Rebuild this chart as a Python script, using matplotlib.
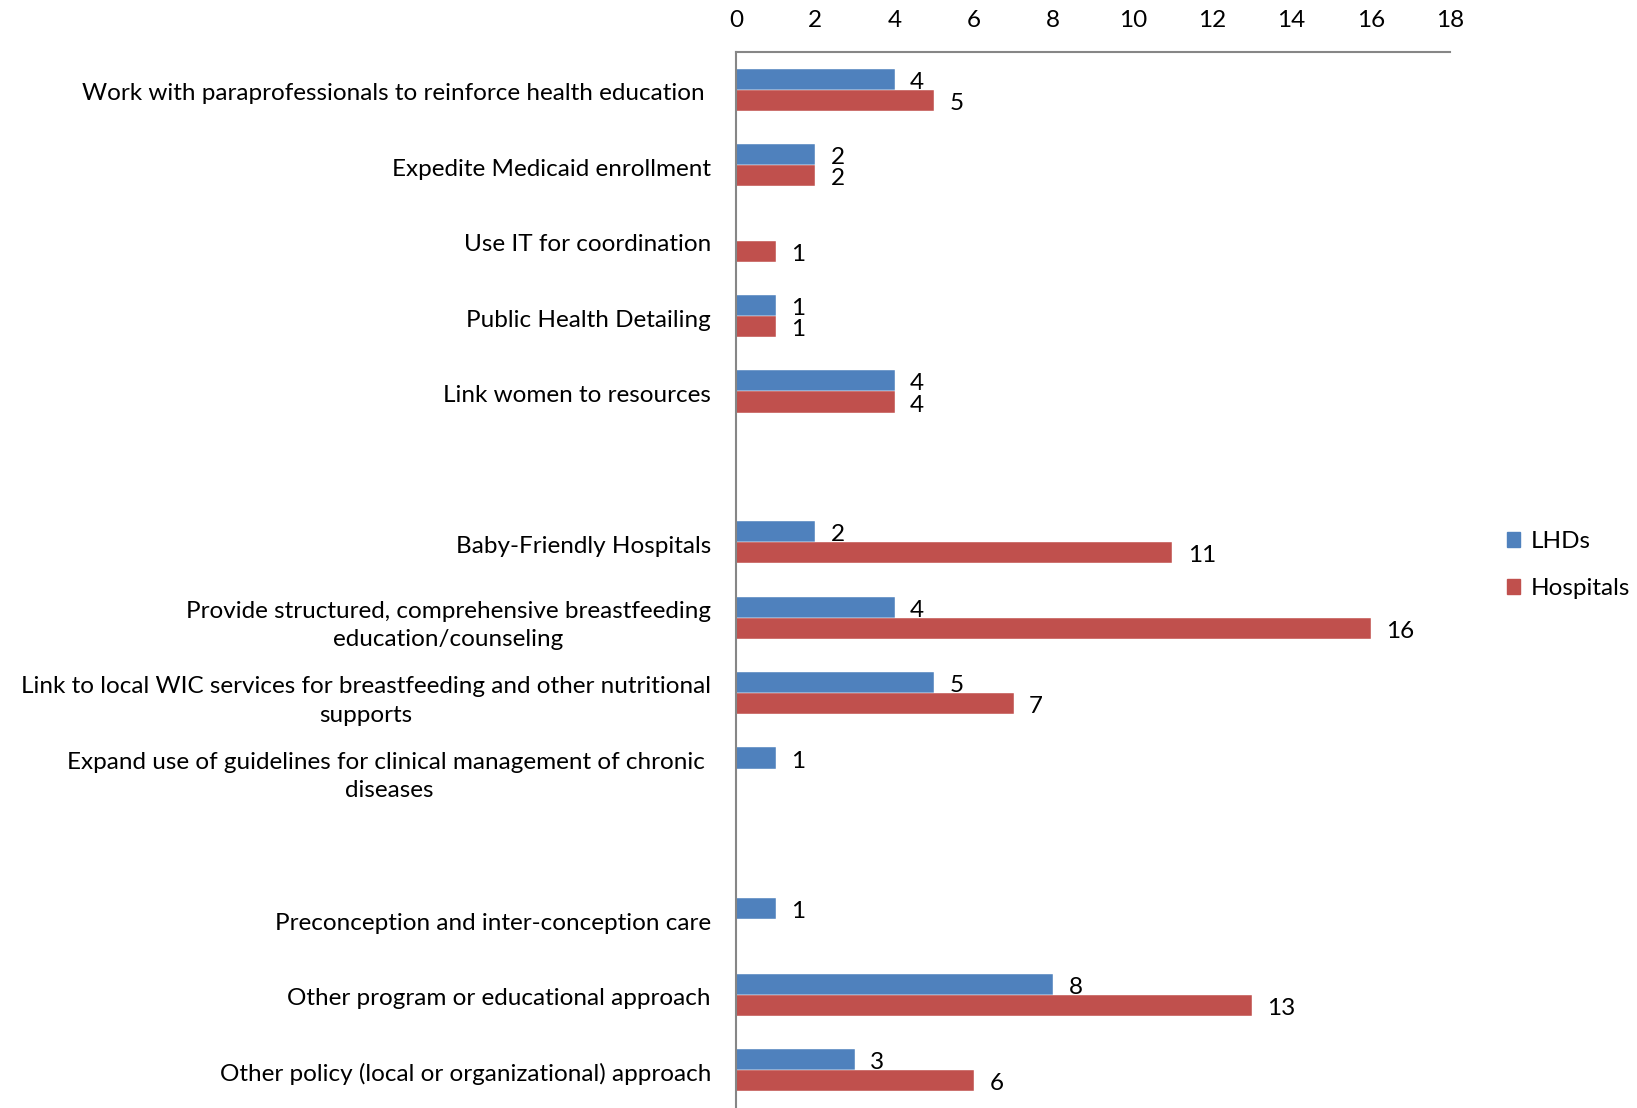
import numpy as np
from matplotlib import pyplot as plt
from matplotlib.patches import Patch
from matplotlib.transforms import ScaledTranslation

plt.rcParams['font.family'] = ['Lato', 'DejaVu Sans']

categories = [
    "Work with paraprofessionals to reinforce health education ",
    "Expedite Medicaid enrollment",
    "Use IT for coordination",
    "Public Health Detailing",
    "Link women to resources",
    "",
    "Baby-Friendly Hospitals",
    "Provide structured, comprehensive breastfeeding\neducation/counseling",
    "Link to local WIC services for breastfeeding and other nutritional\nsupports",
    "Expand use of guidelines for clinical management of chronic \ndiseases",
    "",
    "Preconception and inter-conception care",
    "Other program or educational approach",
    "Other policy (local or organizational) approach",
]
lhds = [4, 2, None, 1, 4, None, 2, 4, 5, 1, None, 1, 8, 3]
hospitals = [5, 2, 1, 1, 4, None, 11, 16, 7, None, None, None, 13, 6]

blue = "#4F81BD"
red = "#C0504D"
axis_gray = "#868686"
fs = 17.5

fig = plt.figure(figsize=(16.37, 11.08), dpi=100)
ax = fig.add_axes([0.4496, 0.0, 0.4362, 0.953])

y = np.arange(len(categories))
h = 0.28

def draw(vals, offset, color):
    for yi, v in zip(y, vals):
        if v is None:
            continue
        ax.barh(yi + offset, v, height=h, color=color, edgecolor="white", linewidth=0.3)
        ax.annotate(str(v), (v, yi + offset), xytext=(11, -2.2), textcoords="offset points",
                    ha="left", va="center", fontsize=fs)

draw(lhds, -h / 2, blue)
draw(hospitals, h / 2, red)

ax.set_xlim(0, 18)
ax.set_xticks(range(0, 19, 2))
ax.set_ylim(len(categories) - 0.5, -0.5)
ax.set_yticks(y)
ax.set_yticklabels(categories, fontsize=fs, multialignment="center", linespacing=1.45)
ax.xaxis.tick_top()
ax.tick_params(axis="x", length=0, pad=15, labelsize=fs)
ax.tick_params(axis="y", length=0, pad=18)

# nudge the category labels down a touch
shift = ScaledTranslation(0, -2 / 100, fig.dpi_scale_trans)
for lab in ax.get_yticklabels():
    lab.set_transform(lab.get_transform() + shift)

for s in ["right", "bottom"]:
    ax.spines[s].set_visible(False)
for s in ["top", "left"]:
    ax.spines[s].set_color(axis_gray)
    ax.spines[s].set_linewidth(1.5)

handles = [Patch(color=blue, label="LHDs"), Patch(color=red, label="Hospitals")]
fig.legend(handles=handles, loc="center left", bbox_to_anchor=(0.907, 0.490), frameon=False,
           fontsize=fs, handlelength=0.55, handleheight=0.55, handletextpad=0.45, labelspacing=1.05)

plt.savefig("out.png", dpi=100)
